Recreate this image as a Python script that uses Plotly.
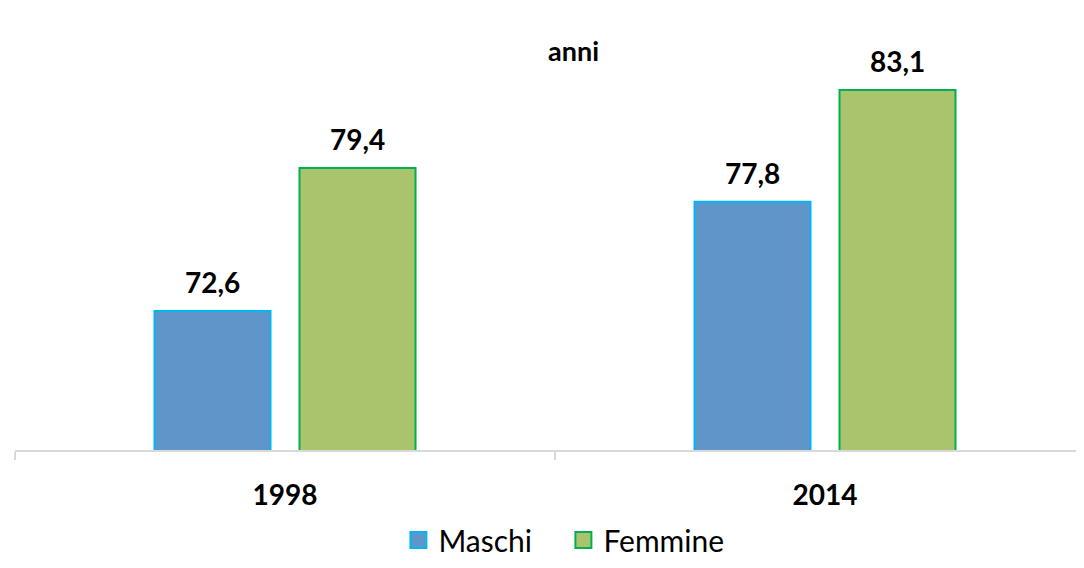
import plotly.graph_objects as go

categories = ["1998", "2014"]
maschi = [72.6, 77.8]
femmine = [79.4, 83.1]
series_names = ["Maschi", "Femmine"]
title_text = "anni"

FONT = "Lato"
fill_m, line_m = "#6095C9", "#00B8F0"
fill_f, line_f = "#A9C46C", "#00B050"
SLOT_PX = 72.5  # half of one bar slot in pixels (group offset of each series)

fig = go.Figure()
annotations = []
for i, (name, vals, fc, lc) in enumerate([(series_names[0], maschi, fill_m, line_m),
                                          (series_names[1], femmine, fill_f, line_f)]):
    fig.add_trace(go.Bar(
        x=categories, y=vals, name=name, showlegend=False,
        marker=dict(color=fc, line=dict(color=lc, width=2)),
        hovertemplate="%{x}: %{y:.1f}<extra>" + name + "</extra>",
    ))
    fig.add_trace(go.Scatter(
        x=[None], y=[None], name=name, mode="markers",
        marker=dict(symbol="square", size=20, color=fc, line=dict(color=lc, width=2)),
    ))
    for j, v in enumerate(vals):
        annotations.append(dict(
            x=j, y=v, xref="x", yref="y", showarrow=False,
            text="<b>" + f"{v:.1f}".replace(".", ",") + "</b>",
            xanchor="center", yanchor="middle",
            xshift=(-SLOT_PX if i == 0 else SLOT_PX), yshift=29,
            font=dict(family=FONT, size=28, color="#000000"),
        ))

annotations.append(dict(
    text="<b>" + title_text + "</b>", xref="paper", yref="paper",
    x=0.522, y=0.9756, xanchor="center", yanchor="middle", showarrow=False,
    font=dict(family=FONT, size=27, color="#000000"),
))

fig.update_layout(
    width=1076, height=560,
    margin=dict(l=7, r=0, t=32, b=118, autoexpand=False),
    paper_bgcolor="white", plot_bgcolor="white",
    separators=",.",
    barmode="group", bargap=0.463, bargroupgap=0.2,
    font=dict(family=FONT, color="#000000"),
    xaxis=dict(
        type="category", range=[-0.5, 1.4796], automargin=False,
        showline=True, linecolor="#D9D9D9", linewidth=2,
        ticks="outside", tickson="boundaries", ticklen=8, tickcolor="#D9D9D9", tickwidth=2,
        ticklabelstandoff=19,
        tickfont=dict(family=FONT, size=28, color="#000000", weight="bold"),
        showgrid=False, zeroline=False, fixedrange=True,
    ),
    yaxis=dict(range=[66, 85.48], visible=False, showgrid=False, zeroline=False,
               automargin=False),
    legend=dict(
        orientation="h", x=0.513, xanchor="center",
        yref="container", y=0.05, yanchor="middle",
        font=dict(family=FONT, size=30, color="#000000"),
        itemwidth=30, tracegroupgap=0, entrywidth=120,
    ),
    annotations=annotations,
)

fig.write_html("out.html")
